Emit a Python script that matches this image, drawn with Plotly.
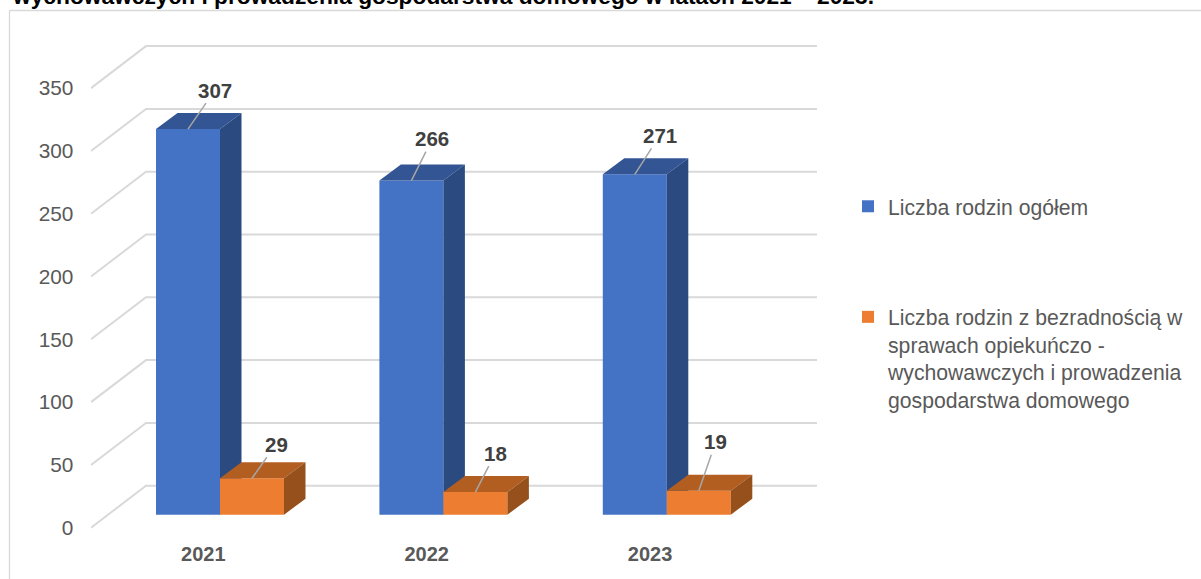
import plotly.graph_objects as go

categories = ["2021", "2022", "2023"]
total_families = [307, 266, 271]
helpless_families = [29, 18, 19]
y_ticks = [0, 50, 100, 150, 200, 250, 300, 350]
series_names = [
    "Liczba rodzin ogółem",
    "Liczba rodzin z bezradnością w<br>sprawach opiekuńczo -<br>wychowawczych i prowadzenia<br>gospodarstwa domowego",
]
title_text = "wychowawczych i prowadzenia gospodarstwa domowego w latach 2021 – 2023."
# label offset from the bar (pixels) for the leader lines
label_off_total = [(27, -39), (21, -42), (25, -39)]
label_off_helpless = [(24, -34), (20, -39), (17, -49)]

W, H = 1201, 579
L, R, T, B = 91, 830, 30, 536          # plot area in pixels
PX_X = 223.4                           # pixels per category
PX_Y = 1.256                           # pixels per value unit
X0 = 203.3                             # pixel of first category on front edge
Y0 = 527.7                             # pixel of value 0 on front edge

x_range = [(L - X0) / PX_X, (R - X0) / PX_X]
y_range = [(Y0 - B) / PX_Y, (Y0 - T) / PX_Y]
bar_shift_y = 13.0                     # bar front face vs. front edge
y2_range = [(Y0 - bar_shift_y - B) / PX_Y, (Y0 - bar_shift_y - T) / PX_Y]

bar_w = 64 / PX_X
bar_cx = 16.7 / PX_X                   # group centre vs. tick
dx, dy = 21.5 / PX_X, 16 / PX_Y        # depth of a bar
wall_dx, wall_dy = 55 / PX_X, 42 / PX_Y
wall_end = (817 - X0) / PX_X

GRID = "#d9d9d9"
BLUE, BLUE_TOP, BLUE_SIDE = "#4472c4", "#335593", "#2a4a80"
ORANGE, ORANGE_TOP, ORANGE_SIDE = "#ed7d31", "#b35e21", "#95501b"

fig = go.Figure()

# floor and back-wall grid
for v in y_ticks:
    fig.add_trace(go.Scatter(
        x=[x_range[0], x_range[0] + wall_dx, wall_end],
        y=[v, v + wall_dy, v + wall_dy],
        mode="lines", line=dict(color=GRID, width=2),
        showlegend=False, hoverinfo="skip", cliponaxis=False,
    ))

def add_series(values, name, off, front, top, side, axis, group):
    xs = [i + bar_cx + off * bar_w for i in range(len(values))]
    fig.add_trace(go.Bar(
        x=xs, y=values, width=bar_w, name=name, marker=dict(color=front, line=dict(width=0)),
        yaxis=axis, legendgroup=group, showlegend=True,
    ))
    for xc, v in zip(xs, values):
        xl, xr = xc - bar_w / 2, xc + bar_w / 2
        fig.add_trace(go.Scatter(
            x=[xl, xr, xr + dx, xl + dx, xl], y=[v, v, v + dy, v + dy, v],
            fill="toself", fillcolor=top, mode="lines", line=dict(width=0, color=top),
            yaxis=axis, showlegend=False, hoverinfo="skip", legendgroup=group,
        ))
        fig.add_trace(go.Scatter(
            x=[xr, xr + dx, xr + dx, xr, xr], y=[0, dy, v + dy, v, 0],
            fill="toself", fillcolor=side, mode="lines", line=dict(width=0, color=side),
            yaxis=axis, showlegend=False, hoverinfo="skip", legendgroup=group,
        ))
    return xs

xs_total = add_series(total_families, series_names[0], -0.5, BLUE, BLUE_TOP, BLUE_SIDE, "y2", "a")
xs_help = add_series(helpless_families, series_names[1], 0.5, ORANGE, ORANGE_TOP, ORANGE_SIDE, "y3", "b")

annotations = []
for xs, vals, offs, ax_name in [(xs_total, total_families, label_off_total, "y2"),
                                (xs_help, helpless_families, label_off_helpless, "y3")]:
    for xc, v, (ox, oy) in zip(xs, vals, offs):
        annotations.append(dict(
            x=xc, y=v, xref="x", yref=ax_name, text=f"<b>{v}</b>", showarrow=True, arrowhead=0,
            arrowwidth=1.5, arrowcolor="#a6a6a6", ax=ox, ay=oy, standoff=0,
            font=dict(family="Liberation Sans", size=20.5, color="#404040"),
        ))
annotations.append(dict(
    xref="paper", yref="paper", x=(10 - L) / (R - L), y=(B - 11) / (B - T),
    xanchor="left", yanchor="bottom", showarrow=False, text=f"<b>{title_text}</b>",
    font=dict(family="Liberation Sans", size=22.75, color="#000000"),
))

px_x = lambda p: (p - L) / (R - L)
px_y = lambda p: (B - p) / (B - T)
shapes = [
    dict(type="line", xref="paper", yref="paper", x0=px_x(9.5), x1=px_x(W), y0=px_y(10.5), y1=px_y(10.5),
         line=dict(color=GRID, width=1.3), layer="below"),
    dict(type="line", xref="paper", yref="paper", x0=px_x(9.5), x1=px_x(9.5), y0=px_y(10.5), y1=px_y(H),
         line=dict(color=GRID, width=1.3), layer="below"),
]

fig.update_layout(
    width=W, height=H, margin=dict(l=L, r=W - R, t=T, b=H - B, autoexpand=False),
    paper_bgcolor="white", plot_bgcolor="white", barmode="overlay",
    font=dict(family="Liberation Sans", color="#595959"),
    annotations=annotations, shapes=shapes,
    legend=dict(
        x=px_x(848), y=px_y(186), xanchor="left", yanchor="top", xref="paper", yref="paper",
        font=dict(family="Liberation Sans", size=21.2, color="#595959"),
        tracegroupgap=80, bgcolor="rgba(0,0,0,0)", traceorder="grouped", valign="top",
    ),
    xaxis=dict(
        range=x_range, tickvals=[0, 1, 2], ticktext=[f"<b>{c}</b>" for c in categories],
        showgrid=False, zeroline=False, showline=False, ticks="outside", ticklen=0, tickcolor="rgba(0,0,0,0)",
        tickfont=dict(family="Liberation Sans", size=20, color="#595959"),
    ),
    yaxis=dict(
        range=y_range, tickvals=y_ticks, showgrid=False, zeroline=False, showline=False,
        ticks="outside", ticklen=12.5, tickcolor="rgba(0,0,0,0)",
        tickfont=dict(family="Liberation Sans", size=20.8, color="#595959"),
    ),
    yaxis2=dict(range=y2_range, overlaying="y", visible=False),
    yaxis3=dict(range=y2_range, overlaying="y", visible=False),
)

fig.write_html("out.html", config=dict(displayModeBar=False),
               post_script="document.body.style.margin='0';document.documentElement.style.overflow='hidden';")
